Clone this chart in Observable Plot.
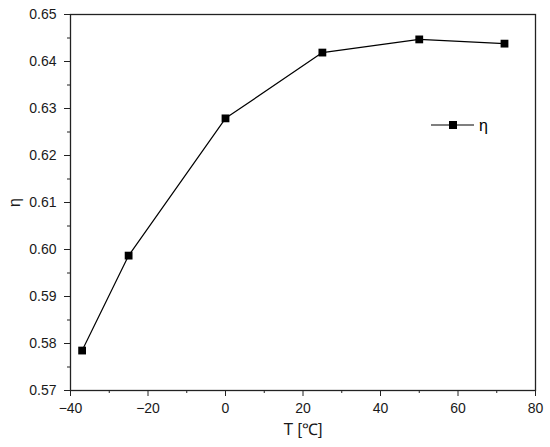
<!DOCTYPE html>
<html>
<head>
<meta charset="utf-8">
<script src="https://cdn.jsdelivr.net/npm/d3@7"></script>
<script src="https://cdn.jsdelivr.net/npm/@observablehq/plot@0.6"></script>
<style>
  html, body { margin: 0; padding: 0; background: white; }
  #wrap { position: relative; width: 550px; height: 447px; }
  #legend { position: absolute; left: 430px; top: 115px; font-family: "Liberation Sans", Arial, sans-serif; font-size: 16px; display: flex; align-items: center; }
</style>
</head>
<body>
<div id="wrap"></div>
<script>
const T = [-37, -25, 0, 25, 50, 72];
const eta = [0.5785, 0.5987, 0.6279, 0.6419, 0.6447, 0.6438];
const xTicks = [-40, -20, 0, 20, 40, 60, 80];
const xMinor = [-30, -10, 10, 30, 50, 70];
const yTicks = [0.57, 0.58, 0.59, 0.60, 0.61, 0.62, 0.63, 0.64, 0.65];
const yMinor = [0.575, 0.585, 0.595, 0.605, 0.615, 0.625, 0.635, 0.645];
const seriesName = "η";

const data = T.map((t, i) => ({T: t, eta: eta[i]}));

const chart = Plot.plot({
  width: 550,
  height: 447,
  marginLeft: 70,
  marginRight: 15,
  marginTop: 14,
  marginBottom: 57,
  style: {fontFamily: "'Liberation Sans', Arial, sans-serif", fontSize: "14px", color: "#1a1a1a", background: "white"},
  x: {domain: [-40, 80]},
  y: {domain: [0.57, 0.65]},
  marks: [
    Plot.frame({stroke: "#222", strokeWidth: 1.3}),
    Plot.axisX({ticks: xTicks, tickSize: 6, tickPadding: 7, fontSize: 14, label: "T [℃]", labelAnchor: "center", labelArrow: "none", labelOffset: 44, stroke: "#222"}),
    Plot.axisX({ticks: xMinor, tickSize: 3, text: null, label: null, stroke: "#222"}),
    Plot.axisY({ticks: yTicks, tickSize: 6, tickPadding: 8, fontSize: 14, tickFormat: d3.format(".2f"), label: "η", labelAnchor: "center", labelArrow: "none", labelOffset: 62, stroke: "#222"}),
    Plot.axisY({ticks: yMinor, tickSize: 3, text: null, label: null, stroke: "#222"}),
    Plot.line(data, {x: "T", y: "eta", stroke: "black", strokeWidth: 1.2}),
    Plot.dot(data, {x: "T", y: "eta", symbol: "square", r: 4.4, fill: "black", stroke: "none"})
  ]
});

d3.select(chart).selectAll("g[aria-label='x-axis label'] text, g[aria-label='y-axis label'] text").style("font-size", "16px");

document.getElementById("wrap").appendChild(chart);

const legend = document.createElement("div");
legend.id = "legend";
legend.innerHTML = `<svg width="46" height="20"><line x1="1" y1="10" x2="44" y2="10" stroke="black" stroke-width="1.2"/><rect x="19" y="6" width="8" height="8" fill="black"/></svg><span style="margin-left:3px;margin-top:2px">${seriesName}</span>`;
document.getElementById("wrap").appendChild(legend);
</script>
</body>
</html>
